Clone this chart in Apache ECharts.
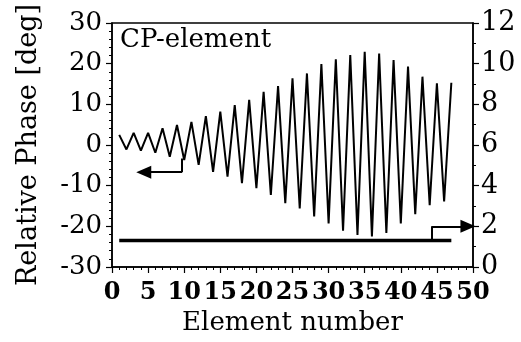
<!DOCTYPE html>
<html>
<head>
<meta charset="utf-8">
<script src="https://cdn.jsdelivr.net/npm/echarts@6/dist/echarts.min.js"></script>
<style>
  html, body { margin: 0; padding: 0; background: #fff; }
  #chart { width: 521px; height: 342px; }
</style>
</head>
<body>
<div id="chart"></div>
<script>
// element index
const elements = [1, 2, 3, 4, 5, 6, 7, 8, 9, 10, 11, 12, 13, 14, 15, 16, 17, 18, 19, 20,
  21, 22, 23, 24, 25, 26, 27, 28, 29, 30, 31, 32, 33, 34, 35, 36, 37, 38, 39, 40,
  41, 42, 43, 44, 45, 46, 47]

// relative phase [deg] (left axis)
const phase = [2.5, -1.1, 3.0, -1.4, 3.0, -1.9, 4.1, -2.9, 4.9, -3.7, 5.7, -4.9, 7.1, -6.6,
  8.2, -7.8, 9.8, -9.4, 11.1, -10.6, 13.1, -12.3, 14.5, -14.3, 16.4, -15.6, 17.6, -17.6,
  19.9, -19.3, 21.1, -21.1, 22.1, -22.1, 22.9, -22.5, 22.5, -21.6, 20.9, -19.3, 19.3, -17.0,
  16.8, -14.8, 15.2, -13.9, 15.3]

// right axis series (flat)
const rightVals = [1.3, 1.3, 1.3, 1.3, 1.3, 1.3, 1.3, 1.3, 1.3, 1.3, 1.3, 1.3, 1.3, 1.3,
  1.3, 1.3, 1.3, 1.3, 1.3, 1.3, 1.3, 1.3, 1.3, 1.3, 1.3, 1.3, 1.3, 1.3, 1.3, 1.3, 1.3,
  1.3, 1.3, 1.3, 1.3, 1.3, 1.3, 1.3, 1.3, 1.3, 1.3, 1.3, 1.3, 1.3, 1.3, 1.3, 1.3]

const serif = 'DejaVu Serif'
const black = '#000'

const chart = echarts.init(document.getElementById('chart'), null, { renderer: 'canvas' })

const axisLine = { show: true, onZero: false, lineStyle: { color: black, width: 1.5 } }

const option = {
  animation: false,
  backgroundColor: '#fff',
  title: {
    text: 'CP-element',
    left: 120,
    top: 27,
    padding: 0,
    textStyle: { fontFamily: serif, fontSize: 26, fontWeight: 'normal', color: black },
  },
  grid: {
    left: 112,
    right: 48,
    top: 23,
    bottom: 75,
    show: true,
    borderColor: black,
    borderWidth: 1.5,
    backgroundColor: 'transparent',
  },
  xAxis: {
    type: 'value',
    min: 0,
    max: 50,
    interval: 5,
    name: 'Element number',
    nameLocation: 'middle',
    nameGap: 33,
    nameTextStyle: { fontFamily: serif, fontSize: 26, color: black },
    axisLine,
    axisTick: { show: true, length: 6, lineStyle: { color: black, width: 1.2 } },
    minorTick: { show: true, splitNumber: 5, length: 3, lineStyle: { color: black, width: 1 } },
    splitLine: { show: false },
    axisLabel: {
      margin: 14,
      fontFamily: serif,
      fontSize: 24,
      fontWeight: 'bold',
      color: black,
      showMinLabel: true,
      showMaxLabel: true,
      hideOverlap: false,
    },
  },
  yAxis: [
    {
      type: 'value',
      min: -30,
      max: 30,
      interval: 10,
      position: 'left',
      name: 'Relative Phase [deg]',
      nameLocation: 'middle',
      nameGap: 70,
      nameTextStyle: { fontFamily: serif, fontSize: 27, color: black },
      axisLine,
      axisTick: { show: true, length: 6, lineStyle: { color: black, width: 1.2 } },
      minorTick: { show: true, splitNumber: 5, length: 3, lineStyle: { color: black, width: 1 } },
      splitLine: { show: false },
      axisLabel: { margin: 10, fontFamily: serif, fontSize: 26, color: black },
    },
    {
      type: 'value',
      min: 0,
      max: 12,
      interval: 2,
      position: 'right',
      axisLine,
      axisTick: { show: true, length: 6, lineStyle: { color: black, width: 1.2 } },
      minorTick: { show: true, splitNumber: 2, length: 3, lineStyle: { color: black, width: 1 } },
      splitLine: { show: false },
      axisLabel: { margin: 8, fontFamily: serif, fontSize: 27, color: black },
    },
  ],
  series: [
    {
      name: 'phase',
      type: 'line',
      yAxisIndex: 0,
      showSymbol: false,
      lineStyle: { color: black, width: 2 },
      data: elements.map((e, i) => [e, phase[i]]),
      markLine: {
        silent: true,
        animation: false,
        lineStyle: { color: black, width: 2, type: 'solid' },
        label: { show: false },
        data: [
          [
            { coord: [9.7, -3.3], symbol: 'none' },
            { coord: [9.7, -6.7], symbol: 'none' },
          ],
          [
            { coord: [9.7, -6.7], symbol: 'none' },
            { coord: [4.4, -6.7], symbol: 'triangle', symbolSize: [13, 15] },
          ],
        ],
      },
    },
    {
      name: 'right',
      type: 'line',
      yAxisIndex: 1,
      showSymbol: false,
      lineStyle: { color: black, width: 3.5 },
      data: elements.map((e, i) => [e, rightVals[i]]),
      markLine: {
        silent: true,
        animation: false,
        lineStyle: { color: black, width: 2, type: 'solid' },
        label: { show: false },
        data: [
          [
            { coord: [44.3, 1.35], symbol: 'none' },
            { coord: [44.3, 2.0], symbol: 'none' },
          ],
          [
            { coord: [44.3, 2.0], symbol: 'none' },
            { coord: [49.3, 2.0], symbol: 'triangle', symbolSize: [13, 15] },
          ],
        ],
      },
    },
  ],
}

chart.setOption(option)
</script>
</body>
</html>
